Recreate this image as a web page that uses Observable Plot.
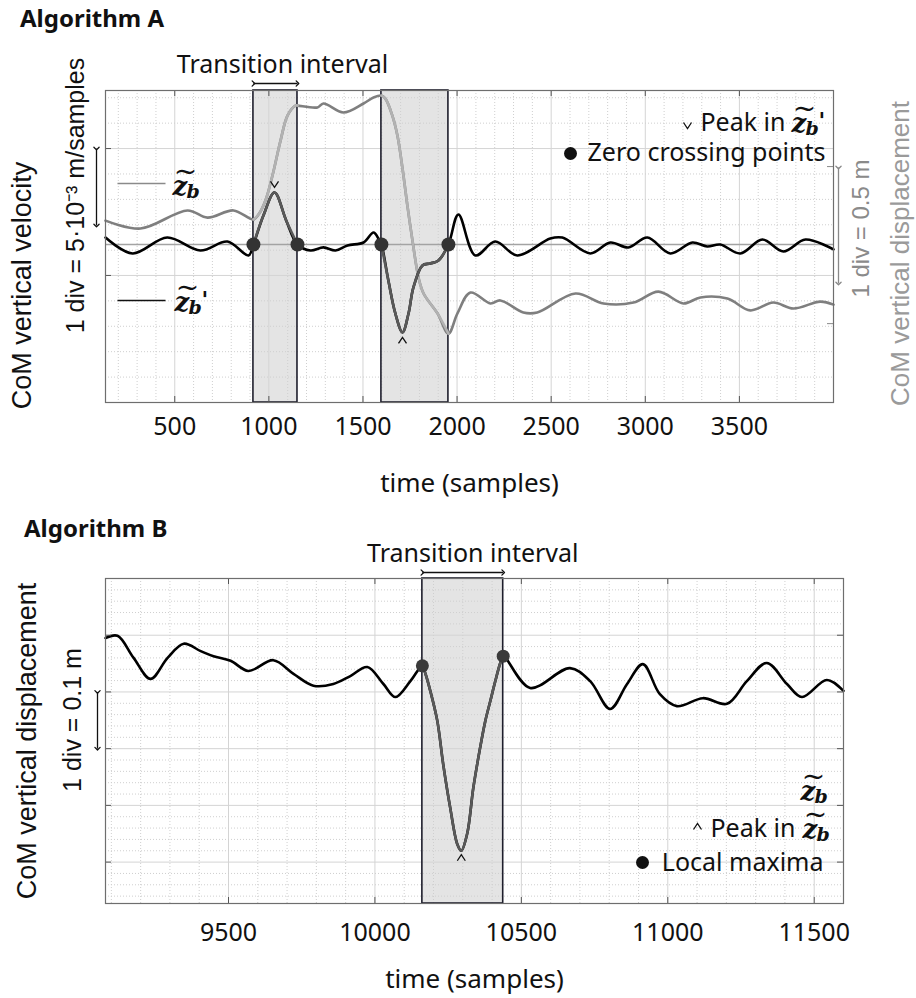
<!DOCTYPE html>
<html>
<head>
<meta charset="utf-8">
<script src="https://cdn.jsdelivr.net/npm/d3@7"></script>
<script src="https://cdn.jsdelivr.net/npm/@observablehq/plot@0.6"></script>
<style>
  body { margin: 0; background: #fff; }
  #wrap { position: relative; width: 916px; height: 998px; overflow: hidden; background: #fff; }
  .plot { position: absolute; left: 0; }
  .title { position: absolute; z-index: 2; font-family: "Noto Sans", sans-serif; font-weight: bold; font-size: 24px; line-height: 24px; color: #111; }
</style>
</head>
<body>
<div id="wrap">
  <div id="plotA" class="plot" style="top:0px"></div>
  <div id="plotB" class="plot" style="top:500px"></div>
  <div class="title" style="left:20px;top:6px">Algorithm A</div>
  <div class="title" style="left:24px;top:516px">Algorithm B</div>
</div>
<script>
// ---------------- DATA: Algorithm A ----------------
const xDomainA = [132, 4000];              // samples
const yDomainA = [-10.26, 10];             // left axis, velocity (×10⁻³ m/sample)
const yRightDomainA = [-0.681, 0.664];     // right axis, displacement (m)
const xTicksA = [500, 1000, 1500, 2000, 2500, 3000, 3500];
const yTicksLeftA = [6.23, -2.01];
const yMinorLeftA = [9.53, 7.88, 4.58, 2.93, 1.28, -0.37, -3.66, -5.31, -6.96, -8.61];
const yTicksRightA = [0.336, -0.341];
const divLeftA = 5;      // 1 div = 5·10⁻³ m/samples
const divRightA = 0.5;   // 1 div = 0.5 m
const intervalsA = [[918, 1152], [1598, 1954]];
// CoM vertical velocity z_b' (t, ×10⁻³ m/sample)
const velA = [
  [132, 0.45], [276, -0.58], [460, 0.45], [636, -0.39], [780, 0.19], [892, -0.71],
  [918, 0], [971, 1.88], [1030, 3.38], [1092, 1.56], [1152, 0],
  [1221, -0.39], [1290, -0.19], [1354, -0.39], [1418, -0.06], [1503, 0.13], [1556, 0.78], [1582, 0.39],
  [1598, 0], [1635, -2.34], [1672, -4.48], [1710, -5.71], [1742, -4.48], [1768, -2.79], [1816, -1.36],
  [1858, -1.23], [1901, -1.04], [1954, 0],
  [2007, 1.95], [2097, -0.71], [2203, 0.19], [2320, -0.71], [2495, 0.39], [2559, 0.45], [2708, -0.58],
  [2814, 0.13], [2910, -0.19], [3011, 0.45], [3133, -0.58], [3250, 0.13], [3329, -0.13], [3398, 0],
  [3505, -0.58], [3622, 0.32], [3734, -0.45], [3851, 0.32], [4000, -0.32]
];
// CoM vertical displacement z_b (t, m)
const dispA = [
  [132, 0.103], [318, 0.069], [568, 0.147], [674, 0.116], [812, 0.147], [918, 0.108],
  [945, 0.129], [982, 0.190], [1019, 0.297], [1062, 0.448], [1099, 0.556], [1141, 0.599], [1152, 0.599],
  [1258, 0.591], [1290, 0.608], [1396, 0.569], [1503, 0.608], [1556, 0.634], [1598, 0.642],
  [1619, 0.629], [1656, 0.556], [1683, 0.470], [1710, 0.328], [1736, 0.168], [1763, 0.017],
  [1795, -0.142], [1822, -0.211], [1896, -0.297], [1954, -0.384],
  [2002, -0.297], [2071, -0.207], [2177, -0.254], [2230, -0.241], [2352, -0.293], [2426, -0.293],
  [2629, -0.211], [2778, -0.254], [2937, -0.250], [3070, -0.203], [3203, -0.254], [3293, -0.228],
  [3436, -0.233], [3558, -0.284], [3680, -0.250], [3787, -0.276], [3930, -0.246], [4000, -0.259]
];

// ---------------- DATA: Algorithm B ----------------
const xDomainB = [9080, 11600];
const yDomainB = [-0.373, 0.2];            // m
const xTicksB = [9500, 10000, 10500, 11000, 11500];
const yTicksB = [0.1, 0, -0.1, -0.2, -0.3];
const divB = 0.1;                          // 1 div = 0.1 m
const intervalsB = [[10162, 10438]];
const dispB = [
  [9080, 0.095], [9121, 0.099], [9176, 0.060], [9234, 0.023], [9292, 0.060], [9347, 0.085],
  [9405, 0.072], [9449, 0.063], [9507, 0.055], [9568, 0.037], [9653, 0.056], [9722, 0.032],
  [9790, 0.011], [9858, 0.014], [9916, 0.028], [9974, 0.044], [10029, 0.014], [10070, -0.009],
  [10121, 0.019], [10162, 0.046], [10172, 0.033], [10189, 0.002], [10213, -0.051], [10233, -0.127],
  [10257, -0.204], [10281, -0.268], [10295, -0.280], [10315, -0.250], [10336, -0.169], [10359, -0.099],
  [10377, -0.051], [10394, -0.016], [10411, 0.019], [10428, 0.051], [10438, 0.063],
  [10530, 0.007], [10666, 0.042], [10735, 0.019], [10803, -0.030], [10861, 0.014], [10915, 0.049],
  [10973, -0.004], [11031, -0.025], [11120, -0.011], [11202, -0.021], [11270, 0.019], [11338, 0.051],
  [11407, 0.014], [11458, -0.009], [11543, 0.021], [11600, 0.002]
];

// ---------------- helpers ----------------
const SANS = "Noto Sans";
const ARIAL = "Liberation Sans";
const gridMajor = {stroke: "#d4d4d4", strokeWidth: 1};
const gridMinor = {stroke: "#cfcfcf", strokeWidth: 1, strokeDasharray: "1,2"};
const caretDown = {draw(c) { c.moveTo(-4, -3); c.lineTo(0, 3); c.lineTo(4, -3); }};
const caretUp = {draw(c) { c.moveTo(-4, 3); c.lineTo(0, -3); c.lineTo(4, 3); }};
const hline = {draw(c) { c.moveTo(-24, 0); c.lineTo(24, 0); }};
const within = (pts, ivs) => ivs.flatMap((iv, k) =>
  pts.filter(p => p[0] >= iv[0] && p[0] <= iv[1]).map(p => ({t: p[0], y: p[1], seg: k})));
const txt = (extra) => ({fontSize: 25, fontFamily: SANS, fill: "#111", lineAnchor: "middle", ...extra});
const rot = (extra) => ({fontSize: 27, fontFamily: ARIAL, fill: "#111", rotate: -90, textAnchor: "middle", lineAnchor: "middle", ...extra});

function mathLabel(anchor, dx, dy, prime, color = "#111") {
  const c = {frameAnchor: anchor, fill: color, fontFamily: "DejaVu Serif", fontWeight: "bold",
             fontStyle: "italic", lineAnchor: "middle", textAnchor: "start"};
  const m = [
    Plot.text(["z"], {...c, dx, dy, fontSize: 26}),
    Plot.text(["b"], {...c, dx: dx + 14, dy: dy + 5, fontSize: 19}),
    Plot.text(["~"], {...c, dx: dx + 13, dy: dy - 14, fontSize: 28, fontStyle: "normal", fontWeight: "normal", textAnchor: "middle"})
  ];
  if (prime) m.push(Plot.text(["'"], {...c, dx: dx + 27, dy: dy - 3, fontSize: 22, fontStyle: "normal"}));
  return m;
}

// ---------------- Plot A ----------------
const mA = {top: 90, bottom: 98, left: 105, right: 83};
const WA = 916 - mA.left - mA.right, HA = 500 - mA.top - mA.bottom;
const toLeft = d3.scaleLinear().domain(yRightDomainA).range(yDomainA);
const xMinorA = d3.range(200, 4000, 100).filter(v => v % 500 !== 0);
const velInA = within(velA, intervalsA);
const dispInA = within(dispA, intervalsA);
const peakHiA = d3.greatest(velInA.filter(d => d.seg === 0), d => d.y);
const peakLoA = d3.least(velInA.filter(d => d.seg === 1), d => d.y);
const zeroA = intervalsA.flat();

const plotA = Plot.plot({
  width: 916, height: 500,
  marginTop: mA.top, marginBottom: mA.bottom, marginLeft: mA.left, marginRight: mA.right,
  x: {domain: xDomainA},
  y: {domain: yDomainA, axis: null},
  style: {fontFamily: SANS, fontSize: "24px", background: "transparent", color: "#111", overflow: "visible"},
  marks: [
    Plot.rect(intervalsA, {x1: d => d[0], x2: d => d[1], fill: "#e4e4e4"}),
    Plot.ruleX(xMinorA, gridMinor),
    Plot.ruleX(xTicksA, gridMajor),
    Plot.ruleY(yMinorLeftA, gridMinor),
    Plot.ruleY(yTicksLeftA, gridMajor),
    Plot.ruleY([0], {stroke: "#a3a3a3", strokeWidth: 1.5}),
    Plot.rect(intervalsA, {x1: d => d[0], x2: d => d[1], fill: "none", stroke: "#1e1e2c", strokeWidth: 1.6}),
    // displacement (right axis)
    Plot.line(dispA, {x: d => d[0], y: d => toLeft(d[1]), stroke: "#7f7f7f", strokeWidth: 2.6, curve: "catmull-rom"}),
    Plot.line(dispInA, {x: "t", y: d => toLeft(d.y), z: "seg", stroke: "#b2b2b2", strokeWidth: 2.6, curve: "catmull-rom"}),
    // velocity (left axis)
    Plot.line(velA, {x: d => d[0], y: d => d[1], stroke: "#000", strokeWidth: 2.6, curve: "catmull-rom"}),
    Plot.line(velInA, {x: "t", y: "y", z: "seg", stroke: "#595959", strokeWidth: 2.6, curve: "catmull-rom"}),
    Plot.dot(zeroA, {x: d => d, y: () => 0, r: 7, fill: "#333"}),
    Plot.dot([peakHiA], {x: "t", y: "y", symbol: caretDown, dy: -8, fill: "none", stroke: "#111", strokeWidth: 1.3}),
    Plot.dot([peakLoA], {x: "t", y: "y", symbol: caretUp, dy: 8, fill: "none", stroke: "#111", strokeWidth: 1.3}),
    // inside tick marks
    Plot.ruleX(xTicksA, {stroke: "#555", insetTop: HA - 6}),
    Plot.ruleX(xTicksA, {stroke: "#555", insetBottom: HA - 6}),
    Plot.ruleY(yTicksLeftA, {stroke: "#555", insetRight: WA - 6}),
    Plot.ruleY(yTicksRightA.map(toLeft), {stroke: "#888", insetLeft: WA - 6}),
    Plot.frame({stroke: "#6e6e6e", strokeWidth: 1.2}),
    Plot.axisX({ticks: xTicksA, tickFormat: "d", tickSize: 0, tickPadding: 15, label: null, fontSize: 25, fontFamily: SANS}),
    // scale bars
    Plot.link([yTicksLeftA[0]], {x1: () => xDomainA[0], x2: () => xDomainA[0], y1: d => d, y2: d => d - divLeftA,
      dx: -9, stroke: "#111", strokeWidth: 1.3, markerStart: "arrow", markerEnd: "arrow"}),
    Plot.link([yTicksRightA[0]], {x1: () => xDomainA[1], x2: () => xDomainA[1], y1: d => toLeft(d - 0.004), y2: d => toLeft(d - 0.004 - divRightA),
      dx: 5, stroke: "#888", strokeWidth: 1.3, markerStart: "arrow", markerEnd: "arrow"}),
    // transition interval annotation
    Plot.text([intervalsA[0]], txt({x: d => (d[0] + d[1]) / 2, frameAnchor: "top", dy: -26, dx: 7, textAnchor: "middle",
      text: () => "Transition interval"})),
    Plot.link([intervalsA[0]], {x1: d => d[0], x2: d => d[1], y1: () => yDomainA[1], y2: () => yDomainA[1],
      dy: -7, stroke: "#111", strokeWidth: 1.3, markerStart: "arrow", markerEnd: "arrow"}),
    // axis titles
    Plot.text(["time (samples)"], txt({frameAnchor: "bottom", dy: 81, textAnchor: "middle", fontSize: 26})),
    Plot.text(["CoM vertical velocity"], rot({frameAnchor: "left", dx: -83, dy: 39})),
    Plot.text(["1 div = 5·10⁻³ m/samples"], rot({frameAnchor: "left", dx: -30, dy: -51, fontSize: 25})),
    Plot.text(["1 div = 0.5 m"], rot({frameAnchor: "right", dx: 28, dy: -18, fontSize: 24, fill: "#8a8a8a"})),
    Plot.text(["CoM vertical displacement"], rot({frameAnchor: "right", dx: 67, dy: 7, fontSize: 26, fill: "#9a9a9a"})),
    // legend left
    Plot.dot([0], {frameAnchor: "top-left", dx: 36, dy: 93, symbol: hline, fill: "none", stroke: "#8a8a8a", strokeWidth: 1.5}),
    ...mathLabel("top-left", 67, 96, false),
    Plot.dot([0], {frameAnchor: "top-left", dx: 36, dy: 210, symbol: hline, fill: "none", stroke: "#111", strokeWidth: 1.5}),
    ...mathLabel("top-left", 69, 212, true),
    // legend right
    Plot.dot([0], {frameAnchor: "top-right", dx: -146, dy: 35, symbol: caretDown, fill: "none", stroke: "#111", strokeWidth: 1.3}),
    Plot.text(["Peak in"], txt({frameAnchor: "top-right", dx: -48, dy: 32, textAnchor: "end"})),
    ...mathLabel("top-right", -42, 33, true),
    Plot.dot([0], {frameAnchor: "top-right", dx: -263, dy: 63, r: 6.5, fill: "#111"}),
    Plot.text(["Zero crossing points"], txt({frameAnchor: "top-right", dx: -8, dy: 62, textAnchor: "end"}))
  ]
});
document.getElementById("plotA").append(plotA);

// ---------------- Plot B ----------------
const mB = {top: 78, bottom: 95, left: 105, right: 73};
const WB = 916 - mB.left - mB.right, HB = 498 - mB.top - mB.bottom;
const xMinorB = d3.range(9100, 11700, 100).filter(v => v % 500 !== 0);
const yMinorB = d3.range(-18, 10).filter(k => k % 5 !== 0).map(k => k / 50);
const dispInB = within(dispB, intervalsB);
const peakB = d3.least(dispInB, d => d.y);
const maximaB = intervalsB.flat().map(t => dispB.find(p => p[0] === t));

const plotB = Plot.plot({
  width: 916, height: 498,
  marginTop: mB.top, marginBottom: mB.bottom, marginLeft: mB.left, marginRight: mB.right,
  x: {domain: xDomainB},
  y: {domain: yDomainB, axis: null},
  style: {fontFamily: SANS, fontSize: "24px", background: "transparent", color: "#111", overflow: "visible"},
  marks: [
    Plot.rect(intervalsB, {x1: d => d[0], x2: d => d[1], fill: "#e4e4e4"}),
    Plot.ruleX(xMinorB, gridMinor),
    Plot.ruleX(xTicksB, gridMajor),
    Plot.ruleY(yMinorB, gridMinor),
    Plot.ruleY(yTicksB, gridMajor),
    Plot.rect(intervalsB, {x1: d => d[0], x2: d => d[1], fill: "none", stroke: "#1e1e2c", strokeWidth: 1.6}),
    Plot.line(dispB, {x: d => d[0], y: d => d[1], stroke: "#000", strokeWidth: 2.6, curve: "catmull-rom"}),
    Plot.line(dispInB, {x: "t", y: "y", z: "seg", stroke: "#595959", strokeWidth: 2.6, curve: "catmull-rom"}),
    Plot.dot(maximaB, {x: d => d[0], y: d => d[1], r: 6.5, fill: "#3a3a3a"}),
    Plot.dot([peakB], {x: "t", y: "y", symbol: caretUp, dy: 7, fill: "none", stroke: "#111", strokeWidth: 1.3}),
    Plot.ruleX(xTicksB, {stroke: "#555", insetTop: HB - 6}),
    Plot.ruleX(xTicksB, {stroke: "#555", insetBottom: HB - 6}),
    Plot.ruleY(yTicksB, {stroke: "#555", insetRight: WB - 6}),
    Plot.ruleY(yTicksB, {stroke: "#555", insetLeft: WB - 6}),
    Plot.frame({stroke: "#6e6e6e", strokeWidth: 1.2}),
    Plot.axisX({ticks: xTicksB, tickFormat: "d", tickSize: 0, tickPadding: 20, label: null, fontSize: 25, fontFamily: SANS}),
    Plot.link([yTicksB[1]], {x1: () => xDomainB[0], x2: () => xDomainB[0], y1: d => d, y2: d => d - divB,
      dx: -8, stroke: "#111", strokeWidth: 1.3, markerStart: "arrow", markerEnd: "arrow"}),
    Plot.text([intervalsB[0]], txt({x: d => (d[0] + d[1]) / 2, frameAnchor: "top", dy: -25, dx: 10, textAnchor: "middle",
      text: () => "Transition interval"})),
    Plot.link([intervalsB[0]], {x1: d => d[0], x2: d => d[1], y1: () => yDomainB[1], y2: () => yDomainB[1],
      dy: -6, stroke: "#111", strokeWidth: 1.3, markerStart: "arrow", markerEnd: "arrow"}),
    Plot.text(["time (samples)"], txt({frameAnchor: "bottom", dy: 76, textAnchor: "middle", fontSize: 26})),
    Plot.text(["CoM vertical displacement"], rot({frameAnchor: "left", dx: -78, dy: 0})),
    Plot.text(["1 div = 0.1 m"], rot({frameAnchor: "left", dx: -33, dy: -21, fontSize: 25})),
    // legend
    ...mathLabel("top-right", -43, 213, false),
    Plot.dot([0], {frameAnchor: "top-right", dx: -146, dy: 248, symbol: caretUp, fill: "none", stroke: "#111", strokeWidth: 1.3}),
    Plot.text(["Peak in"], txt({frameAnchor: "top-right", dx: -48, dy: 250, textAnchor: "end"})),
    ...mathLabel("top-right", -41, 251, false),
    Plot.dot([0], {frameAnchor: "top-right", dx: -201, dy: 284, r: 6.5, fill: "#111"}),
    Plot.text(["Local maxima"], txt({frameAnchor: "top-right", dx: -20, dy: 284, textAnchor: "end"}))
  ]
});
document.getElementById("plotB").append(plotB);
</script>
</body>
</html>
